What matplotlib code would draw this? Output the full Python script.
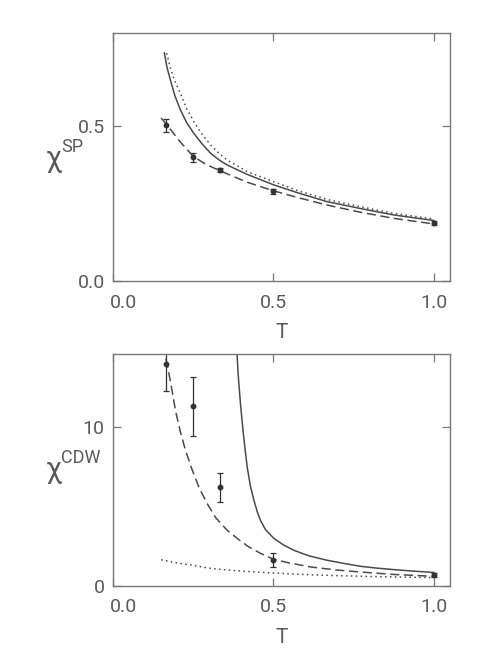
import numpy as np
import matplotlib
matplotlib.use("Agg")
import matplotlib.pyplot as plt
import matplotlib.transforms as mtransforms

plt.rcParams["font.family"] = ["Roboto", "DejaVu Sans"]

# --- upper panel: spin susceptibility ---
sp_solid_T = [0.160, 0.168, 0.179, 0.193, 0.21, 0.23, 0.252, 0.277, 0.304, 0.33, 0.356,
              0.42, 0.501, 0.58, 0.667, 0.77, 0.875, 1.0]
sp_solid_y = [0.736, 0.69, 0.648, 0.597, 0.552, 0.51, 0.476, 0.443, 0.412, 0.391, 0.374,
              0.343, 0.31, 0.283, 0.256, 0.234, 0.213, 0.195]

sp_dot_T = [0.167, 0.178, 0.19, 0.21, 0.23, 0.252, 0.277, 0.304, 0.33, 0.356, 0.42,
            0.501, 0.58, 0.667, 0.77, 0.875, 1.0]
sp_dot_y = [0.735, 0.69, 0.652, 0.605, 0.555, 0.514, 0.474, 0.439, 0.412, 0.390, 0.352,
            0.32, 0.29, 0.263, 0.24, 0.218, 0.2]

sp_dash_T = [0.150, 0.167, 0.21, 0.25, 0.29, 0.333, 0.38, 0.42, 0.5, 0.58, 0.667, 0.77, 0.875, 1.0]
sp_dash_y = [0.526, 0.505, 0.448, 0.402, 0.376, 0.356, 0.335, 0.318, 0.291, 0.268, 0.245, 0.222, 0.202, 0.184]

sp_pts_T = [1 / 6, 1 / 4, 1 / 3, 1 / 2, 1.0]
sp_pts_y = [0.502, 0.399, 0.358, 0.290, 0.186]
sp_pts_err = [0.02, 0.015, 0.007, 0.008, 0.006]

# --- lower panel: CDW susceptibility ---
cdw_solid_T = [0.384, 0.39, 0.397, 0.405, 0.411, 0.418, 0.428, 0.439, 0.449, 0.459, 0.475,
               0.501, 0.53, 0.563, 0.61, 0.667, 0.72, 0.771, 0.82, 0.875, 0.94, 1.0]
cdw_solid_y = [15.5, 13.3, 11.5, 9.8, 8.7, 7.5, 6.3, 5.4, 4.7, 4.15, 3.55,
               3.0, 2.6, 2.25, 1.9, 1.62, 1.42, 1.24, 1.13, 1.03, 0.93, 0.85]

cdw_dash_T = [0.165, 0.175, 0.184, 0.195, 0.21, 0.225, 0.245, 0.268, 0.293, 0.32, 0.356,
              0.39, 0.42, 0.46, 0.5, 0.55, 0.615, 0.69, 0.771, 0.88, 1.0]
cdw_dash_y = [14.3, 13.3, 12.3, 11.0, 9.7, 8.6, 7.4, 6.2, 5.2, 4.3, 3.5,
              2.95, 2.5, 2.05, 1.68, 1.45, 1.2, 1.02, 0.88, 0.72, 0.61]

cdw_dot_T = [0.15, 0.2, 0.25, 0.3, 0.36, 0.43, 0.5, 0.6, 0.7, 0.8, 0.9, 1.0]
cdw_dot_y = [1.65, 1.45, 1.3, 1.12, 1.0, 0.9, 0.82, 0.72, 0.65, 0.6, 0.56, 0.53]

cdw_pts_T = [1 / 6, 1 / 4, 1 / 3, 1 / 2, 1.0]
cdw_pts_y = [14.0, 11.3, 6.2, 1.62, 0.7]
cdw_pts_err = [1.7, 1.85, 0.9, 0.43, 0.12]

LINE = "#4a4a4a"
TEXT = "#5a5a5a"
W, H = 498, 648


def style_axes(ax, xt, yt, ylim):
    ax.set_xlim(0, 1.05)
    ax.set_ylim(*ylim)
    ax.set_xticks(xt)
    ax.set_yticks(yt)
    ax.tick_params(direction="in", length=6, width=0.9, color="#777777",
                   top=True, right=True, labelsize=14, labelcolor=TEXT,
                   pad=6)
    ax.tick_params(axis="x", pad=9)
    for s in ax.spines.values():
        s.set_color("#777777")
        s.set_linewidth(1.0)
    ax.set_xlabel("T", fontsize=15, color=TEXT, labelpad=8)
    # shift the 0.0 x label a bit right, as in the original
    lab = ax.get_xticklabels()[0]
    lab.set_transform(lab.get_transform() +
                      mtransforms.ScaledTranslation(10 / 100, 0, ax.figure.dpi_scale_trans))


def ylabel(ax, sup, y_px):
    fig = ax.figure
    fig.text(46 / W, 1 - y_px / H, "χ", fontsize=21, color=TEXT, va="baseline", ha="left")
    fig.text(61 / W, 1 - (y_px - 15) / H, sup, fontsize=13, color=TEXT, va="baseline", ha="left")


fig = plt.figure(figsize=(W / 100, H / 100), dpi=100)

ax1 = fig.add_axes([113 / W, 1 - 281 / H, 337 / W, 248 / H])
ax1.plot(sp_solid_T, sp_solid_y, "-", color=LINE, lw=1.1)
ax1.plot(sp_dot_T, sp_dot_y, color=LINE, lw=1.1, ls=(0, (1, 2.2)))
ax1.plot(sp_dash_T, sp_dash_y, color=LINE, lw=1.1, ls=(0, (6, 3)))
ax1.errorbar(sp_pts_T, sp_pts_y, yerr=sp_pts_err, fmt="o", ms=3.2, color="#333333",
             elinewidth=0.9, capsize=2.5, capthick=0.9)
style_axes(ax1, [0.0, 0.5, 1.0], [0.0, 0.5], (0, 0.8))
ax1.set_yticklabels(["0.0", "0.5"])
ylabel(ax1, "SP", 167)

ax2 = fig.add_axes([113 / W, 1 - 586 / H, 337 / W, 232 / H])
ax2.plot(cdw_solid_T, cdw_solid_y, "-", color=LINE, lw=1.1)
ax2.plot(cdw_dash_T, cdw_dash_y, color=LINE, lw=1.1, ls=(0, (6, 3)))
ax2.plot(cdw_dot_T, cdw_dot_y, color=LINE, lw=1.1, ls=(0, (1, 2.2)))
ax2.errorbar(cdw_pts_T, cdw_pts_y, yerr=cdw_pts_err, fmt="o", ms=3.2, color="#333333",
             elinewidth=0.9, capsize=2.5, capthick=0.9)
style_axes(ax2, [0.0, 0.5, 1.0], [0, 10], (0, 14.6))
ylabel(ax2, "CDW", 478)

fig.savefig("out.png", dpi=100, facecolor="white")
